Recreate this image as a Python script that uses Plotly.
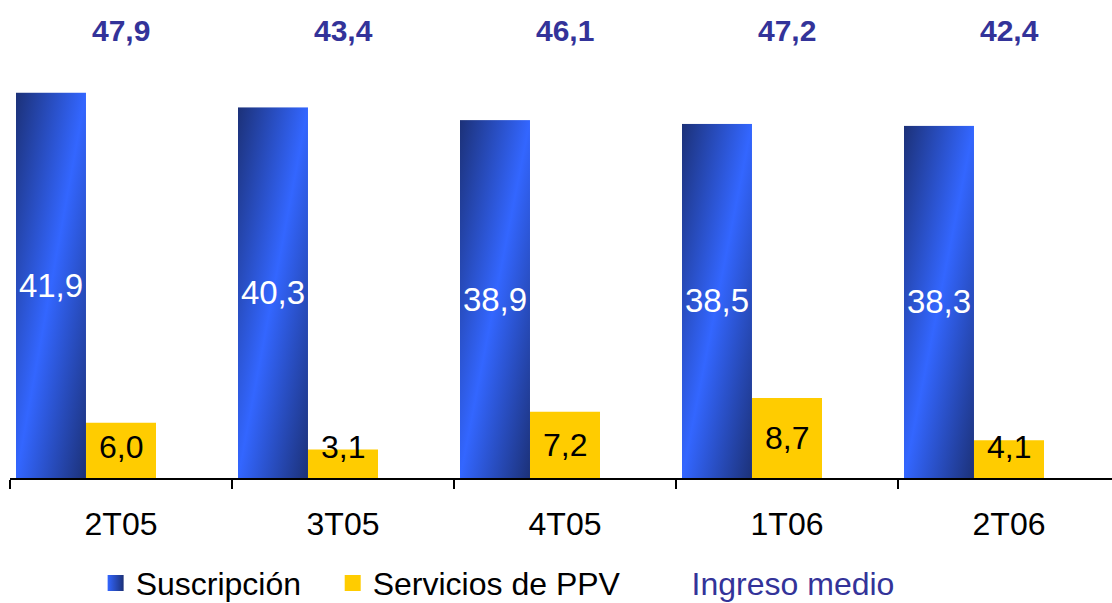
import base64

import plotly.graph_objects as go

# data
quarters = ["2T05", "3T05", "4T05", "1T06", "2T06"]
suscripcion = [41.9, 40.3, 38.9, 38.5, 38.3]
servicios_ppv = [6.0, 3.1, 7.2, 8.7, 4.1]
ingreso_medio = [47.9, 43.4, 46.1, 47.2, 42.4]

FONT = "Liberation Sans, Arial, sans-serif"
BLUE = "#3366ff"
NAVY = "#1c3178"
YELLOW = "#ffcc00"
PURPLE = "#333399"
BARGAP = 0.054
NBSP = "\u00a0"


def fmt(v):
    return f"{v:.1f}".replace(".", ",")


# diagonal dark-bright-dark fill used for the subscription bars
svg = (
    '<svg xmlns="http://www.w3.org/2000/svg" width="10" height="100" '
    'viewBox="0 0 10 100" preserveAspectRatio="none"><defs>'
    '<linearGradient id="g" x1="0" y1="0" x2="1" y2="1">'
    f'<stop offset="0" stop-color="{NAVY}"/>'
    f'<stop offset="0.5" stop-color="{BLUE}"/>'
    f'<stop offset="1" stop-color="{NAVY}"/>'
    '</linearGradient></defs>'
    '<rect width="10" height="100" fill="url(#g)"/></svg>'
)
gradient_uri = "data:image/svg+xml;base64," + base64.b64encode(svg.encode()).decode()

fig = go.Figure()

# blue bars: transparent trace (carries the labels), gradient image drawn below
fig.add_trace(
    go.Bar(
        x=quarters,
        y=suscripcion,
        name="Suscripción",
        marker=dict(color="rgba(0,0,0,0)", line=dict(width=0)),
        showlegend=False,
        texttemplate="%{y:.1f}",
        textposition="inside",
        insidetextanchor="middle",
        textangle=0,
        constraintext="none",
        textfont=dict(color="white", size=33, family=FONT),
        hoverinfo="skip",
    )
)
fig.add_trace(
    go.Bar(
        x=quarters,
        y=servicios_ppv,
        name="Servicios de PPV",
        marker=dict(color=YELLOW, line=dict(width=0)),
        showlegend=False,
    )
)
# third (empty) slot of each group, as in the original chart
fig.add_trace(
    go.Bar(
        x=quarters,
        y=ingreso_medio,
        name=f"<span style='color:{PURPLE}'>Ingreso medio</span>",
        marker=dict(color="rgba(0,0,0,0)", line=dict(width=0)),
        hoverinfo="skip",
        legendrank=3,
    )
)
# legend entries
fig.add_trace(
    go.Scatter(
        x=[None],
        y=[None],
        mode="markers",
        name="Suscripción" + NBSP * 3,
        marker=dict(
            symbol="square",
            size=16,
            color=BLUE,
            gradient=dict(type="horizontal", color=NAVY),
        ),
        legendrank=1,
    )
)
fig.add_trace(
    go.Scatter(
        x=[None],
        y=[None],
        mode="markers",
        name="Servicios de PPV" + NBSP * 3,
        marker=dict(symbol="square", size=16, color=YELLOW),
        legendrank=2,
    )
)

bar_w = (1 - BARGAP) / 3
images = []
for i, v in enumerate(suscripcion):
    images.append(
        dict(
            source=gradient_uri,
            xref="x",
            yref="y",
            x=i - (1 - BARGAP) / 2,
            y=v,
            sizex=bar_w,
            sizey=v,
            xanchor="left",
            yanchor="top",
            sizing="stretch",
            layer="below",
        )
    )

# PPV labels: centred in the bar, kept clear of the axis for short bars
annotations = [
    dict(
        x=i - (1 - BARGAP) / 2 + 1.5 * bar_w,
        xref="x",
        y=max(v / 2, 3.4),
        yref="y",
        text=fmt(v),
        showarrow=False,
        font=dict(size=32, family=FONT, color="black"),
    )
    for i, v in enumerate(servicios_ppv)
]
annotations += [
    dict(
        x=q,
        xref="x",
        y=0.937,
        yref="paper",
        yanchor="middle",
        text=fmt(v),
        showarrow=False,
        font=dict(size=30, family=FONT, color=PURPLE, weight="bold"),
    )
    for q, v in zip(quarters, ingreso_medio)
]

fig.update_layout(
    width=1112,
    height=603,
    margin=dict(l=10, r=0, t=0, b=125, autoexpand=False),
    barmode="group",
    bargap=BARGAP,
    bargroupgap=0,
    separators=",.",
    paper_bgcolor="white",
    plot_bgcolor="rgba(0,0,0,0)",
    font=dict(family=FONT, color="black"),
    images=images,
    annotations=annotations,
    legend=dict(
        orientation="h",
        xref="container",
        x=0.086,
        xanchor="left",
        yref="container",
        y=0.033,
        yanchor="middle",
        font=dict(size=32, family=FONT, color="black"),
        traceorder="normal",
    ),
    xaxis=dict(
        type="category",
        range=[-0.5, -0.5 + 1102 / 222],
        tickson="boundaries",
        ticks="outside",
        ticklen=9,
        tickwidth=1.5,
        tickcolor="black",
        showline=True,
        linecolor="black",
        linewidth=1.5,
        showgrid=False,
        automargin=False,
        ticklabelstandoff=17,
        tickfont=dict(size=32, family=FONT, color="black"),
    ),
    yaxis=dict(
        range=[0, 478 / 9.2],
        visible=False,
        showgrid=False,
        automargin=False,
    ),
)

# drop the default page margin so the figure sits at the window's corner
fig.write_html(
    "out.html",
    config={"displayModeBar": False},
    post_script="document.body.style.margin = '0';",
)
